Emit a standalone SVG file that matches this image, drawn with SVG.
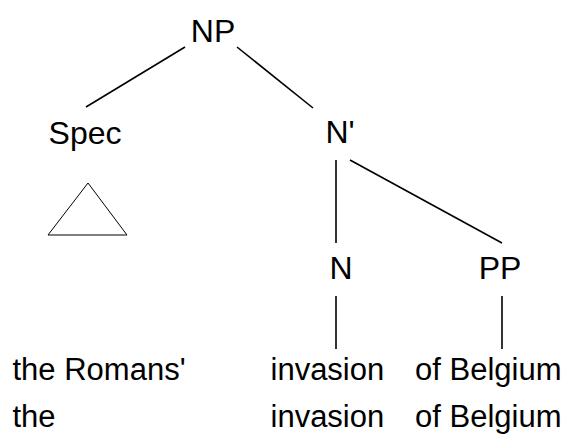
<svg xmlns="http://www.w3.org/2000/svg" width="569" height="435" viewBox="0 0 569 435">
<style>
  text { font-family: "Liberation Sans", Arial, sans-serif; font-size: 32px; fill: #000; }
  .lab { text-anchor: middle; }
  .word { font-size: 31px; }
  .edge { stroke: #000; stroke-width: 1.6; fill: none; }
  .tri { stroke: #000; stroke-width: 1; fill: none; }
</style>
<rect width="569" height="435" fill="#fff"/>
<g id="connectors">
  <line class="edge" x1="185" y1="47" x2="86" y2="107"/>
  <line class="edge" x1="237" y1="47" x2="313" y2="108"/>
  <line class="edge" x1="336" y1="160" x2="336" y2="243"/>
  <line class="edge" x1="350" y1="160" x2="502" y2="243"/>
  <line class="edge" x1="336" y1="296" x2="336" y2="349"/>
  <line class="edge" x1="502" y1="296" x2="502" y2="349"/>
</g>
<g id="node-NP"><text class="lab" x="213" y="42">NP</text></g>
<g id="node-Spec"><text class="lab" x="85" y="144">Spec</text></g>
<g id="node-Nbar"><text class="lab" x="340" y="143">N'</text></g>
<g id="node-triangle"><polygon class="tri" points="88,183 48,235 127,235"/></g>
<g id="node-N"><text class="lab" x="341" y="279">N</text></g>
<g id="node-PP"><text class="lab" x="500" y="279">PP</text></g>
<g id="words-row1">
  <text class="word" x="12.5" y="380">the Romans'</text>
  <text class="word" x="270.5" y="380">invasion</text>
  <text class="word" x="415" y="380">of Belgium</text>
</g>
<g id="words-row2">
  <text class="word" x="12.5" y="427">the</text>
  <text class="word" x="270.5" y="427">invasion</text>
  <text class="word" x="415" y="427">of Belgium</text>
</g>
</svg>
